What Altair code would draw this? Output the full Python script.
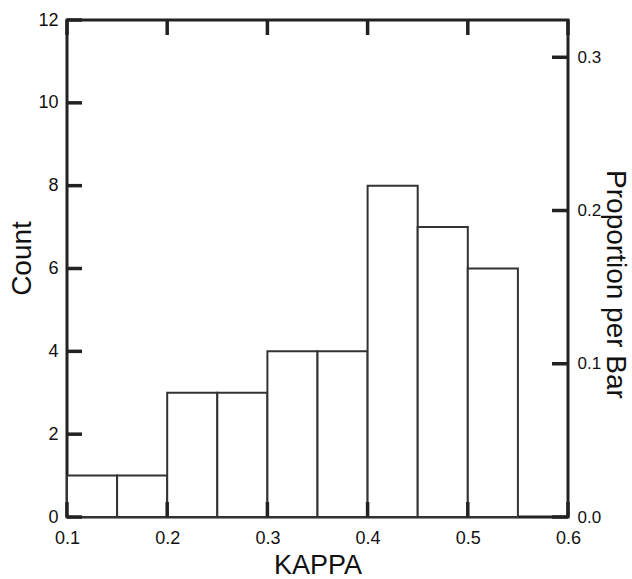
import altair as alt
import pandas as pd

bin_start = [0.10, 0.15, 0.20, 0.25, 0.30, 0.35, 0.40, 0.45, 0.50]
bin_end = [0.15, 0.20, 0.25, 0.30, 0.35, 0.40, 0.45, 0.50, 0.55]
counts = [1, 1, 3, 3, 4, 4, 8, 7, 6]
x_ticks = [0.1, 0.2, 0.3, 0.4, 0.5, 0.6]
count_ticks = [0, 2, 4, 6, 8, 10, 12]
prop_ticks = [0.0, 0.1, 0.2, 0.3]

N = sum(counts)
W, H = 501, 497
FONT = "Liberation Sans"
INK = "#222222"
XDOM = [0.1, 0.6]
YDOM = [0, 12]
PDOM = [0, 12 / N]

bars_df = pd.DataFrame({"start": bin_start, "end": bin_end, "count": counts,
                        "base": [0] * len(counts)})
xt_df = pd.DataFrame({"kappa": x_ticks})
ct_df = pd.DataFrame({"c": count_ticks})
pt_df = pd.DataFrame({"p": prop_ticks})

bars = alt.Chart(bars_df).mark_rect(
    fill="white", stroke="#333333", strokeWidth=2
).encode(
    x=alt.X("start:Q", scale=alt.Scale(domain=XDOM, nice=False, zero=False),
            axis=alt.Axis(title="KAPPA", values=x_ticks, format=".1f",
                          ticks=False, domain=False, grid=False, labelFlush=False,
                          labelFontSize=18, labelPadding=12,
                          titleFontSize=27, titlePadding=5)),
    x2="end:Q",
    y=alt.Y("count:Q", scale=alt.Scale(domain=YDOM, nice=False),
            axis=alt.Axis(title="Count", values=count_ticks, format="d",
                          ticks=False, domain=False, grid=False, labelFlush=False,
                          labelFontSize=18, labelPadding=9,
                          titleFontSize=28, titlePadding=1, titleY=238)),
    y2="base:Q",
)

top_ticks = alt.Chart(xt_df).mark_rule(color=INK, strokeWidth=3.5).encode(
    x=alt.X("kappa:Q", scale=alt.Scale(domain=XDOM, nice=False, zero=False), axis=None),
    y=alt.value(0), y2=alt.value(15),
)
bottom_ticks = alt.Chart(xt_df).mark_rule(color=INK, strokeWidth=3.5).encode(
    x=alt.X("kappa:Q", scale=alt.Scale(domain=XDOM, nice=False, zero=False), axis=None),
    y=alt.value(H), y2=alt.value(H - 15),
)
left_ticks = alt.Chart(ct_df).mark_rule(color=INK, strokeWidth=3.5).encode(
    y=alt.Y("c:Q", scale=alt.Scale(domain=YDOM, nice=False), axis=None),
    x=alt.value(0), x2=alt.value(15),
)
right_ticks = alt.Chart(pt_df).mark_rule(color=INK, strokeWidth=3.5).encode(
    y=alt.Y("p:Q", scale=alt.Scale(domain=PDOM, nice=False),
            axis=alt.Axis(orient="right", title="Proportion per Bar",
                          values=prop_ticks, format=".1f",
                          ticks=False, domain=False, grid=False, labelFlush=False,
                          labelFontSize=17, labelPadding=9,
                          titleFontSize=28, titlePadding=0, titleY=264)),
    x=alt.value(W - 16), x2=alt.value(W),
)

chart = alt.layer(bars, top_ticks, bottom_ticks, left_ticks, right_ticks).resolve_scale(
    x="independent", y="independent"
).properties(
    width=W, height=H,
    autosize=alt.AutoSizeParams(type="none"),
    padding={"left": 67, "top": 20, "right": 64, "bottom": 62},
    background="white",
).configure_view(
    stroke=INK, strokeWidth=3
).configure_axis(
    labelFont=FONT, titleFont=FONT, labelColor="#111111", titleColor="#111111",
    titleFontWeight="normal",
)

chart.save("out.html", embed_options={"renderer": "svg", "actions": False})
